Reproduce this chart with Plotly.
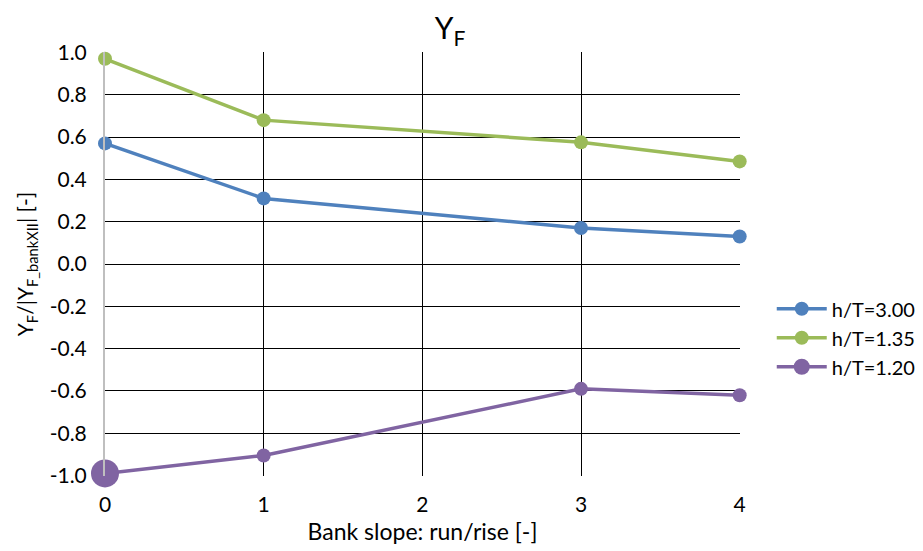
import plotly.graph_objects as go

x_vals = [0, 1, 3, 4]
y_h300 = [0.57, 0.31, 0.17, 0.13]
y_h135 = [0.97, 0.68, 0.575, 0.485]
y_h120 = [-0.99, -0.905, -0.59, -0.62]
names = ["h/T=3.00", "h/T=1.35", "h/T=1.20"]
colors = ["#4F81BD", "#9BBB59", "#8064A2"]
y_ticks = [-1.0, -0.8, -0.6, -0.4, -0.2, 0.0, 0.2, 0.4, 0.6, 0.8, 1.0]
x_ticks = [0, 1, 2, 3, 4]

fig = go.Figure()
sizes = [[14] * 4, [14] * 4, [28, 14, 14, 14]]
for ys, nm, c, s in zip([y_h300, y_h135, y_h120], names, colors, sizes):
    fig.add_trace(go.Scatter(
        x=x_vals, y=ys, name=nm, mode="lines+markers",
        line=dict(color=c, width=3.5),
        marker=dict(color=c, size=s, opacity=1, line=dict(width=0)),
        opacity=1,
        cliponaxis=False,
    ))

font_family = "Lato, Open Sans, sans-serif"
fig.update_layout(
    width=923, height=551,
    paper_bgcolor="white", plot_bgcolor="white",
    margin=dict(l=97, r=191, t=44, b=83, autoexpand=False),
    title=dict(text="Y<sub>F</sub>", x=0.479, xanchor="center", y=0.962, yanchor="middle",
               font=dict(size=30, color="black", family=font_family)),
    font=dict(family=font_family, color="black", size=20),
    legend=dict(x=1.05, y=0.326, xanchor="left", yanchor="middle",
                font=dict(size=20), itemwidth=50, tracegroupgap=6),
    showlegend=True,
)
fig.update_xaxes(
    range=[0, 4.002], tickvals=x_ticks, ticktext=[str(t) for t in x_ticks],
    showgrid=True, gridcolor="black", gridwidth=1.3,
    zeroline=False, showline=False, ticks="", ticklabelstandoff=14,
    tickfont=dict(size=21),
    title=dict(text="Bank slope: run/rise [-]", font=dict(size=23), standoff=8),
)
fig.update_yaxes(
    range=[-1.002, 1.002], tickvals=y_ticks, ticktext=[f"{t:.1f}" for t in y_ticks],
    showgrid=True, gridcolor="black", gridwidth=1.3,
    zeroline=False, showline=True, linecolor="#BFBFBF", linewidth=2,
    ticks="", ticklabelstandoff=12, tickfont=dict(size=21),
    title=dict(text="Y<sub>F</sub>/|Y<sub>F_bankXII</sub>| [-]", font=dict(size=21), standoff=10),
)

fig.write_html("out.html")
